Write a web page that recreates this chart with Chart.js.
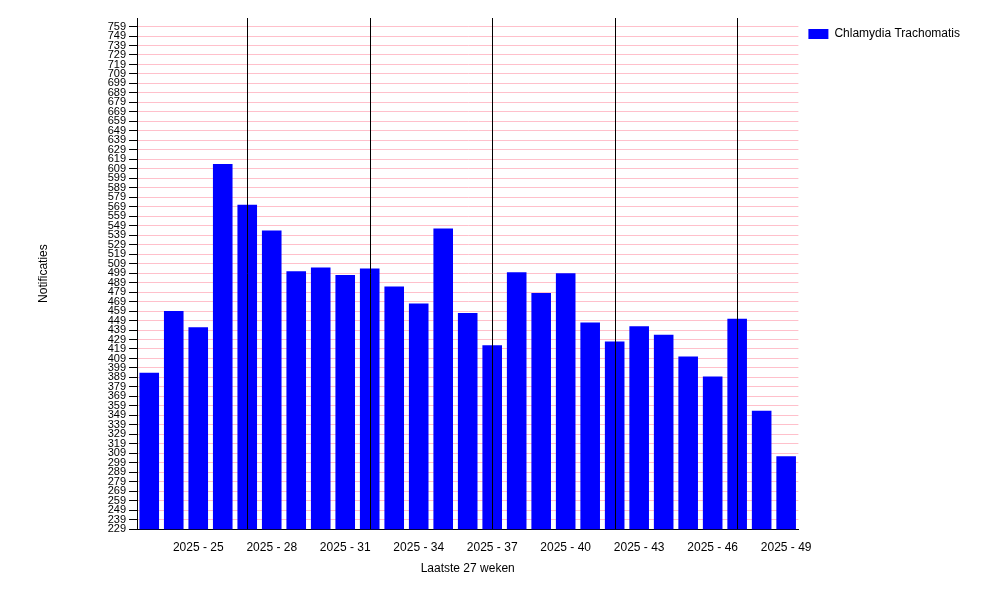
<!DOCTYPE html>
<html><head><meta charset="utf-8">
<script src="https://cdn.jsdelivr.net/npm/chart.js@4"></script>
<style>body{margin:0;background:#fff}</style>
</head><body>
<canvas id="c" width="1000" height="600"></canvas>
<script>
// weken 2025-23 t/m 2025-49
const weeks = ['2025 - 23','2025 - 24','2025 - 25','2025 - 26','2025 - 27','2025 - 28','2025 - 29','2025 - 30','2025 - 31','2025 - 32','2025 - 33','2025 - 34','2025 - 35','2025 - 36','2025 - 37','2025 - 38','2025 - 39','2025 - 40','2025 - 41','2025 - 42','2025 - 43','2025 - 44','2025 - 45','2025 - 46','2025 - 47','2025 - 48','2025 - 49'];
const notificaties = [394,459,442,614,571,544,501,505,497,504,485,467,546,457,423,500,478,499,447,427,443,434,411,390,451,354,306];
const yTicks = [229,239,249,259,269,279,289,299,309,319,329,339,349,359,369,379,389,399,409,419,429,439,449,459,469,479,489,499,509,519,529,539,549,559,569,579,589,599,609,619,629,639,649,659,669,679,689,699,709,719,729,739,749,759];
const shownLabels = ['2025 - 25','2025 - 28','2025 - 31','2025 - 34','2025 - 37','2025 - 40','2025 - 43','2025 - 46','2025 - 49'];
const markerWeeks = ['2025 - 27','2025 - 32','2025 - 37','2025 - 42','2025 - 47'];

Chart.defaults.font.family = 'Arial, "Liberation Sans", sans-serif';
Chart.defaults.font.size = 12;
Chart.defaults.color = '#000';

// zwarte verticale lijnen
const markerLines = {
  id: 'markerLines',
  afterDatasetsDraw(chart) {
    const { ctx, chartArea, scales } = chart;
    ctx.save();
    ctx.strokeStyle = '#000';
    ctx.lineWidth = 1;
    markerWeeks.forEach(w => {
      const x = Math.round(scales.x.getPixelForValue(weeks.indexOf(w))) + 0.5;
      ctx.beginPath();
      ctx.moveTo(x, chartArea.top);
      ctx.lineTo(x, chartArea.bottom);
      ctx.stroke();
    });
    ctx.restore();
  }
};

new Chart(document.getElementById('c'), {
  type: 'bar',
  data: {
    labels: weeks,
    datasets: [{
      label: 'Chlamydia Trachomatis',
      data: notificaties,
      backgroundColor: '#0000ff',
      barPercentage: 0.8,
      categoryPercentage: 1.0,
    }],
  },
  options: {
    responsive: false,
    animation: false,
    layout: { padding: { left: 32, top: 18, right: 30, bottom: 20 } },
    plugins: {
      legend: {
        position: 'right',
        align: 'start',
        labels: { boxWidth: 20, boxHeight: 10, padding: 10, font: { size: 12 } },
        afterFit: l => { l.width = 205; },
      },
      tooltip: { enabled: false },
    },
    scales: {
      x: {
        grid: { display: false },
        border: { color: '#000' },
        ticks: {
          autoSkip: false, maxRotation: 0,
          callback: (v, i) => shownLabels.includes(weeks[i]) ? weeks[i] : '',
        },
        title: { display: true, text: 'Laatste 27 weken', font: { size: 12 } },
      },
      y: {
        min: 229, max: 768,
        afterBuildTicks: axis => { axis.ticks = yTicks.map(v => ({ value: v })); },
        afterFit: axis => { axis.width = 105; },
        grid: { color: '#ffc0cb', drawTicks: true, tickColor: '#000', tickLength: 8 },
        border: { color: '#000' },
        ticks: { autoSkip: false, font: { size: 11 } },
        title: { display: true, text: 'Notificaties', font: { size: 12 } },
      },
    },
  },
  plugins: [markerLines],
});
</script>
</body></html>
